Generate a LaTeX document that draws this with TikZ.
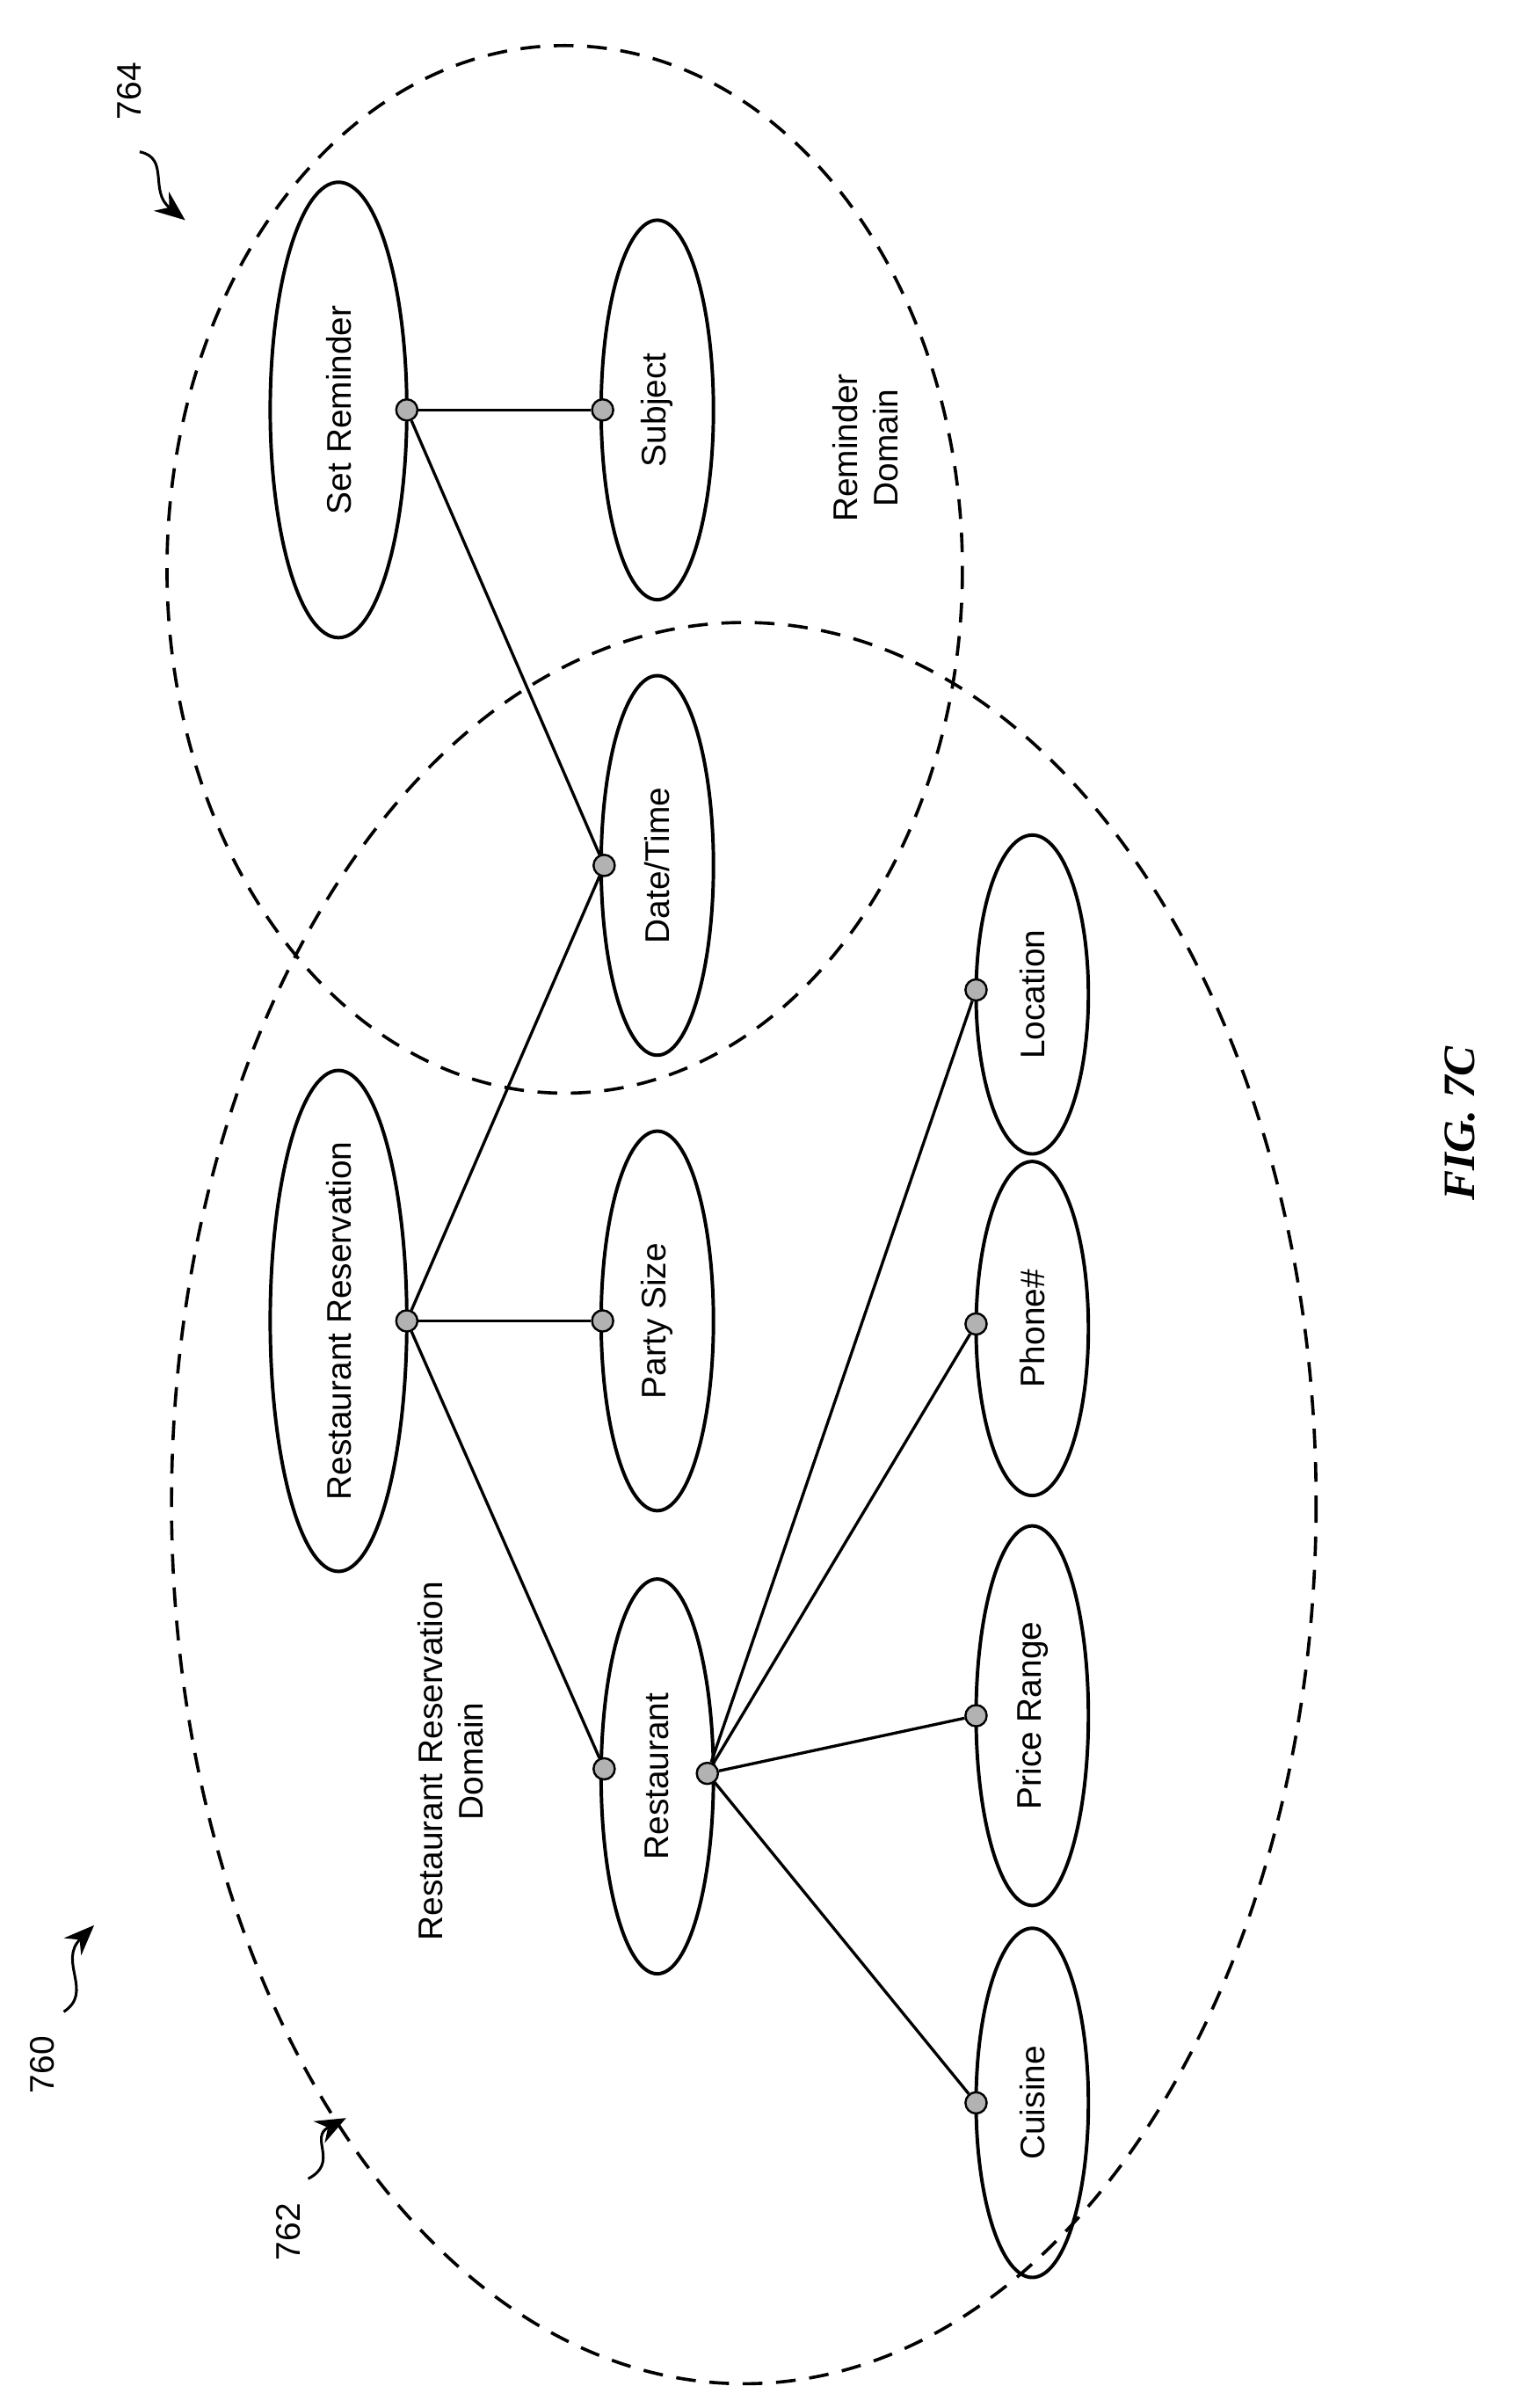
\documentclass[tikz,border=0pt]{standalone}
\usepackage{fontspec}
\setmainfont{Liberation Sans}
\newfontfamily\figfont{Liberation Serif}
\usetikzlibrary{arrows.meta}
\begin{document}
\begin{tikzpicture}[x=0.1cm,y=-0.1cm,
  lw/.style={line width=6.5pt},
  dom/.style={line width=6pt,dash pattern=on 1.3cm off 0.9cm},
  lbl/.style={rotate=90,font=\fontsize{64}{76}\selectfont,align=center},
  dotp/.style={circle,draw=black,fill=gray!60,line width=4pt,minimum size=1.4cm,inner sep=0pt},
  link/.style={line width=5.5pt},
  sq/.style={line width=5pt,-{Stealth[length=2cm,width=1.6cm]}}]
\useasboundingbox (0,0) rectangle (1000,1586);
\draw[dom] (490,990) ellipse [x radius=377,y radius=580];
\draw[dom] (372,375) ellipse [x radius=262,y radius=345];
% entity ellipses
\draw[lw] (223,270) ellipse [x radius=45,y radius=150];
\draw[lw] (433,270) ellipse [x radius=37,y radius=125];
\draw[lw] (433,570) ellipse [x radius=37,y radius=125];
\draw[lw] (223,870) ellipse [x radius=45,y radius=165];
\draw[lw] (433,870) ellipse [x radius=37,y radius=125];
\draw[lw] (433,1170) ellipse [x radius=37,y radius=130];
\draw[lw] (680,1385) ellipse [x radius=37,y radius=115];
\draw[lw] (680,1130) ellipse [x radius=37,y radius=125];
\draw[lw] (680,875) ellipse [x radius=37,y radius=110];
\draw[lw] (680,655) ellipse [x radius=37,y radius=105];
\node[lbl] (tSR) at (223,270) {Set Reminder};
\node[lbl] (tSU) at (433,270) {Subject};
\node[lbl] (tDT) at (433,570) {Date/Time};
\node[lbl] (tRR) at (223,870) {Restaurant Reservation};
\node[lbl] (tPS) at (433,870) {Party Size};
\node[lbl] (tRE) at (433,1170) {Restaurant};
\node[lbl] (tCU) at (680,1385) {Cuisine};
\node[lbl] (tPR) at (680,1130) {Price Range};
\node[lbl] (tPH) at (680,875) {Phone\#};
\node[lbl] (tLO) at (680,655) {Location};
\node[lbl] (tRD) at (570,295) {Reminder\\Domain};
\node[lbl] (tRRD) at (297,1160) {Restaurant Reservation\\Domain};
% dots
\node[dotp] (dSR) at (268,270) {};
\node[dotp] (dSU) at (397,270) {};
\node[dotp] (dDT) at (398,570) {};
\node[dotp] (dRR) at (268,870) {};
\node[dotp] (dPS) at (397,870) {};
\node[dotp] (dRE) at (398,1165) {};
\node[dotp] (dRE2) at (466,1168) {};
\node[dotp] (dCU) at (643,1385) {};
\node[dotp] (dPR) at (643,1130) {};
\node[dotp] (dPH) at (643,872) {};
\node[dotp] (dLO) at (643,652) {};
\draw[link] (dSR) -- (dSU);
\draw[link] (dSR) -- (dDT);
\draw[link] (dRR) -- (dDT);
\draw[link] (dRR) -- (dPS);
\draw[link] (dRR) -- (dRE);
\draw[link] (dRE2) -- (dCU);
\draw[link] (dRE2) -- (dPR);
\draw[link] (dRE2) -- (dPH);
\draw[link] (dRE2) -- (dLO);
% reference numerals
\node[lbl] (n760) at (28,1360) {760};
\coordinate (a760s) at (42,1325);
\coordinate (a760e) at (62,1268);
\draw[sq] (a760s) .. controls (62,1312) and (38,1292) .. (a760e);
\node[lbl] (n762) at (190,1470) {762};
\coordinate (a762s) at (203,1435);
\coordinate (a762e) at (228,1395);
\draw[sq] (a762s) .. controls (224,1424) and (203,1408) .. (a762e);
\node[lbl] (n764) at (85,60) {764};
\coordinate (a764s) at (92,100);
\coordinate (a764e) at (122,145);
\draw[sq] (a764s) .. controls (112,104) and (98,126) .. (a764e);
\node[rotate=90,font=\figfont\bfseries\itshape\fontsize{84}{94}\selectfont] (fig) at (962,740) {FIG. 7C};
\end{tikzpicture}
\end{document}
